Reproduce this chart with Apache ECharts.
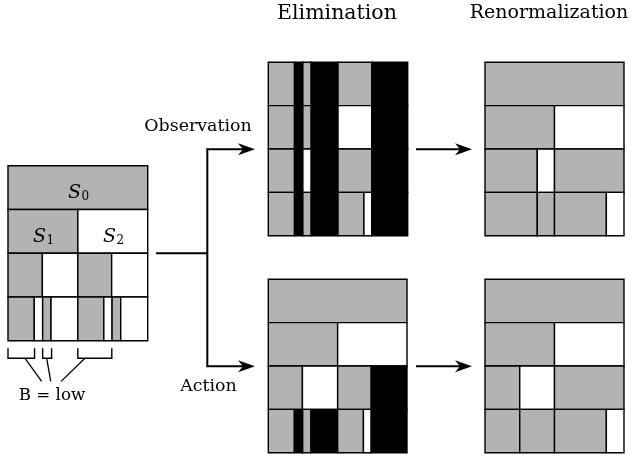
<!DOCTYPE html>
<html><head><meta charset="utf-8">
<script src="https://cdn.jsdelivr.net/npm/echarts@6/dist/echarts.min.js"></script>
<style>html,body{margin:0;padding:0;background:#fff}#c{width:641px;height:457px}</style>
</head><body><div id="c"></div>
<script>
// Cells: [xStart, xEnd, row, fill]  (x as fraction of panel width, row 0 = top)
const treeCells = [
  [0,1,0,'g'],
  [0,0.5,1,'g'],[0.5,1,1,'w'],
  [0,0.246,2,'g'],[0.246,0.5,2,'w'],[0.5,0.742,2,'g'],[0.742,1,2,'w'],
  [0,0.188,3,'g'],[0.188,0.248,3,'w'],[0.248,0.308,3,'g'],[0.308,0.5,3,'w'],
  [0.5,0.686,3,'g'],[0.686,0.745,3,'w'],[0.745,0.807,3,'g'],[0.807,1,3,'w']
];
const elimObsCells = [
  [0,0.188,0,'g'],[0.188,0.248,0,'k'],[0.248,0.308,0,'g'],[0.308,0.5,0,'k'],[0.5,0.742,0,'g'],[0.742,1,0,'k'],
  [0,0.188,1,'g'],[0.188,0.248,1,'k'],[0.248,0.308,1,'g'],[0.308,0.5,1,'k'],[0.5,0.742,1,'w'],[0.742,1,1,'k'],
  [0,0.188,2,'g'],[0.188,0.248,2,'k'],[0.248,0.308,2,'w'],[0.308,0.5,2,'k'],[0.5,0.742,2,'g'],[0.742,1,2,'k'],
  [0,0.188,3,'g'],[0.188,0.248,3,'k'],[0.248,0.308,3,'g'],[0.308,0.5,3,'k'],[0.5,0.686,3,'g'],[0.686,0.742,3,'w'],[0.742,1,3,'k']
];
const renormObsCells = [
  [0,1,0,'g'],
  [0,0.5,1,'g'],[0.5,1,1,'w'],
  [0,0.376,2,'g'],[0.376,0.5,2,'w'],[0.5,1,2,'g'],
  [0,0.376,3,'g'],[0.376,0.5,3,'g'],[0.5,0.873,3,'g'],[0.873,1,3,'w']
];
const elimActCells = [
  [0,1,0,'g'],
  [0,0.5,1,'g'],[0.5,1,1,'w'],
  [0,0.246,2,'g'],[0.246,0.5,2,'w'],[0.5,0.742,2,'g'],[0.742,1,2,'k'],
  [0,0.188,3,'g'],[0.188,0.248,3,'k'],[0.248,0.308,3,'g'],[0.308,0.5,3,'k'],[0.5,0.686,3,'g'],[0.686,0.742,3,'w'],[0.742,1,3,'k']
];
const renormActCells = [
  [0,1,0,'g'],
  [0,0.5,1,'g'],[0.5,1,1,'w'],
  [0,0.25,2,'g'],[0.25,0.5,2,'w'],[0.5,1,2,'g'],
  [0,0.25,3,'g'],[0.25,0.5,3,'g'],[0.5,0.873,3,'g'],[0.873,1,3,'w']
];
// Brackets under the tree: [xStart, xEnd, diagonalStart, diagonalEnd] in tree x fractions
const brackets = [
  [0,0.19,0.122,0.241],
  [0.248,0.312,0.277,0.306],
  [0.5,0.743,0.551,0.38]
];
const titles = ['Elimination','Renormalization'];
const branchLabels = ['Observation','Action'];
const bLabel = 'B = low';
const stateNames = ['S','S','S'];
const stateSubs = ['0','1','2'];

const FILL = {g:'#b3b3b3', w:'#ffffff', k:'#000000'};
const FONT = '"DejaVu Serif", serif';

const panels = [
  {cells: treeCells,      left: 8,     top: 165.7, width: 139.7, height: 175},
  {cells: elimObsCells,   left: 268.3, top: 62.3,  width: 139.4, height: 173.4},
  {cells: renormObsCells, left: 485,   top: 62.3,  width: 139,   height: 173.4},
  {cells: elimActCells,   left: 268.3, top: 279.3, width: 138.7, height: 173.4},
  {cells: renormActCells, left: 485,   top: 279.3, width: 139,   height: 173.4}
];

const grids = [], xAxes = [], yAxes = [], series = [];
panels.forEach((p, i) => {
  grids.push({left: p.left, top: p.top, width: p.width, height: p.height, containLabel: false});
  xAxes.push({type: 'value', gridIndex: i, min: 0, max: 1, show: false});
  yAxes.push({type: 'value', gridIndex: i, min: 0, max: 4, inverse: true, show: false});
  const cells = p.cells;
  series.push({
    type: 'custom', xAxisIndex: i, yAxisIndex: i, clip: false, silent: true, z: 2,
    data: cells.map(c => [c[0], c[1], c[2]]),
    renderItem: function (params, api) {
      const c = cells[params.dataIndex];
      const a = api.coord([api.value(0), api.value(2)]);
      const b = api.coord([api.value(1), api.value(2) + 1]);
      return {type: 'rect',
        shape: {x: a[0], y: a[1], width: b[0] - a[0], height: b[1] - a[1]},
        style: {fill: FILL[c[3]], stroke: '#000', lineWidth: 1.4}};
    }
  });
});
// brackets on the tree's scale
series.push({
  type: 'custom', xAxisIndex: 0, yAxisIndex: 0, clip: false, silent: true,
  data: brackets,
  renderItem: function (params, api) {
    const x0 = api.value(0), x1 = api.value(1), ds = api.value(2), de = api.value(3);
    const yTop = 4.174, yBot = 4.402, yEnd = 4.93;
    const p = (x, y) => api.coord([x, y]);
    return {type: 'group', children: [
      {type: 'polyline', shape: {points: [p(x0, yTop), p(x0, yBot), p(x1, yBot), p(x1, yTop)]},
       style: {stroke: '#000', lineWidth: 1.4, fill: null}},
      {type: 'line', shape: {x1: p(ds, yBot)[0], y1: p(ds, yBot)[1], x2: p(de, yEnd)[0], y2: p(de, yEnd)[1]},
       style: {stroke: '#000', lineWidth: 1.3}}
    ]};
  }
});

function arrowHead(x, y) {
  return {type: 'polygon', z: 100, shape: {points: [[x, y], [x - 17, y - 6], [x - 12, y], [x - 17, y + 6]]},
    style: {fill: '#000'}, silent: true};
}
function txt(x, y, text, font, align) {
  return {type: 'text', z: 100, x: x, y: y, silent: true,
    style: {text: text, font: font, fill: '#000', align: align || 'center', verticalAlign: 'top'}};
}
const statePos = [[81, 184], [46, 227.5], [116, 227.5]];
const graphic = [
  {type: 'polyline', z: 100, shape: {points: [[156, 253.3], [207.3, 253.3]]}, style: {stroke: '#000', lineWidth: 2}},
  {type: 'polyline', z: 100, shape: {points: [[244, 149.3], [207.3, 149.3], [207.3, 366.3], [244, 366.3]]}, style: {stroke: '#000', lineWidth: 2, fill: null}},
  arrowHead(255, 149.3), arrowHead(255, 366.3),
  {type: 'line', z: 100, shape: {x1: 416, y1: 149.3, x2: 462, y2: 149.3}, style: {stroke: '#000', lineWidth: 2}},
  arrowHead(472, 149.3),
  {type: 'line', z: 100, shape: {x1: 416, y1: 366.3, x2: 462, y2: 366.3}, style: {stroke: '#000', lineWidth: 2}},
  arrowHead(472, 366.3),
  txt(337, 3, titles[0], '20.5px ' + FONT),
  txt(549, 3.5, titles[1], '19px ' + FONT),
  txt(198, 117.5, branchLabels[0], '17.4px ' + FONT),
  txt(208.5, 377.5, branchLabels[1], '17.4px ' + FONT),
  txt(52, 387.5, bLabel, '16.7px ' + FONT)
];
statePos.forEach((pos, i) => {
  graphic.push(txt(pos[0], pos[1], stateNames[i], 'italic 19px ' + FONT, 'right'));
  graphic.push(txt(pos[0] + 0.5, pos[1] + 7, stateSubs[i], '12px ' + FONT, 'left'));
});

const chart = echarts.init(document.getElementById('c'), null, {renderer: 'canvas'});
chart.setOption({
  animation: false,
  backgroundColor: '#fff',
  grid: grids, xAxis: xAxes, yAxis: yAxes, series: series,
  graphic: graphic
});
</script></body></html>
